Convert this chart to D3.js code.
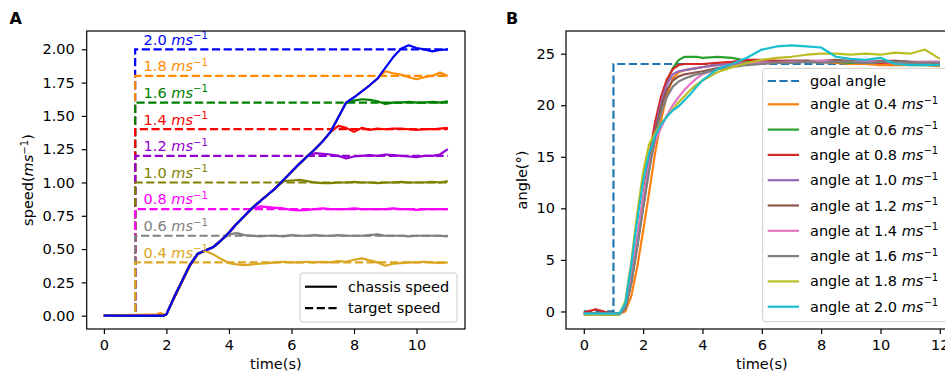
<!DOCTYPE html>
<html lang="en">
<head>
<meta charset="utf-8">
<title>Chassis speed and steering angle response</title>
<script src="https://cdn.jsdelivr.net/npm/d3@7"></script>
<style>
  body { margin: 0; background: #fff; }
  svg { display: block; font-family: "DejaVu Sans", sans-serif; }
</style>
</head>
<body>
<script>

// ---- Panel A data: chassis speed (m/s) against time (s) ----
var speedT = [0, 1.7, 1.8, 1.9, 2.0, 2.25, 2.5, 2.75, 3.0, 3.25, 3.5, 3.75, 4.0, 4.25, 4.5, 4.75,
              5.0, 5.25, 5.5, 5.75, 6.0, 6.25, 6.5, 6.75, 7.0, 7.25, 7.5, 7.75, 8.0, 8.25, 8.5, 8.75,
              9.0, 9.25, 9.5, 9.75, 10.0, 10.25, 10.5, 10.75, 11.0];

var speedTargets = [0.4, 0.6, 0.8, 1.0, 1.2, 1.4, 1.6, 1.8, 2.0];
var speedColors = ["goldenrod", "gray", "magenta", "olive", "darkviolet", "red", "green", "darkorange", "blue"];

var s04 = [0, 0, 0, 0, 0.01, 0.13, 0.25, 0.37, 0.46, 0.485, 0.46, 0.425, 0.395, 0.385, 0.38, 0.385,
           0.39, 0.395, 0.4, 0.405, 0.4, 0.4, 0.405, 0.4, 0.405, 0.4, 0.41, 0.405, 0.42, 0.43, 0.415, 0.4,
           0.375, 0.39, 0.395, 0.4, 0.4, 0.405, 0.4, 0.395, 0.4];
var s06 = [0, 0, 0, 0, 0.01, 0.14, 0.26, 0.38, 0.465, 0.49, 0.515, 0.565, 0.61, 0.62, 0.605, 0.6,
           0.595, 0.6, 0.6, 0.595, 0.605, 0.6, 0.6, 0.605, 0.6, 0.6, 0.605, 0.6, 0.6, 0.6, 0.605, 0.61,
           0.6, 0.6, 0.6, 0.595, 0.6, 0.6, 0.6, 0.6, 0.595];
var s08 = [0, 0, 0, 0, 0.01, 0.14, 0.26, 0.38, 0.465, 0.49, 0.515, 0.565, 0.625, 0.69, 0.75, 0.805,
           0.82, 0.815, 0.81, 0.805, 0.795, 0.79, 0.795, 0.8, 0.805, 0.8, 0.8, 0.8, 0.805, 0.8, 0.8, 0.8,
           0.8, 0.805, 0.8, 0.8, 0.795, 0.8, 0.8, 0.8, 0.8];
var s10 = [0, 0, 0, 0, 0.01, 0.14, 0.26, 0.38, 0.465, 0.49, 0.515, 0.565, 0.625, 0.69, 0.75, 0.81,
           0.86, 0.91, 0.96, 1.01, 1.015, 1.02, 1.01, 1.0, 0.995, 0.995, 1.0, 1.0, 1.005, 1.0, 1.0, 0.995,
           1.0, 1.0, 1.005, 1.0, 1.0, 1.0, 1.005, 1.0, 1.01];
var s12 = [0, 0, 0, 0, 0.01, 0.14, 0.26, 0.38, 0.465, 0.49, 0.515, 0.565, 0.625, 0.69, 0.75, 0.81,
           0.86, 0.91, 0.96, 1.02, 1.08, 1.14, 1.195, 1.22, 1.215, 1.21, 1.2, 1.18, 1.195, 1.2, 1.205, 1.2,
           1.21, 1.205, 1.2, 1.195, 1.19, 1.2, 1.2, 1.21, 1.25];
var s14 = [0, 0, 0, 0, 0.01, 0.14, 0.26, 0.38, 0.465, 0.49, 0.515, 0.565, 0.625, 0.69, 0.75, 0.81,
           0.86, 0.91, 0.96, 1.02, 1.08, 1.14, 1.195, 1.25, 1.31, 1.38, 1.425, 1.41, 1.38, 1.41, 1.395, 1.405,
           1.4, 1.405, 1.405, 1.4, 1.395, 1.4, 1.4, 1.405, 1.41];
var s16 = [0, 0, 0, 0, 0.01, 0.14, 0.26, 0.38, 0.465, 0.49, 0.515, 0.565, 0.625, 0.69, 0.75, 0.81,
           0.86, 0.91, 0.96, 1.02, 1.08, 1.14, 1.195, 1.25, 1.31, 1.38, 1.49, 1.6, 1.615, 1.625, 1.62, 1.61,
           1.59, 1.6, 1.6, 1.605, 1.6, 1.6, 1.605, 1.6, 1.61];
var s18 = [0, 0.01, 0.02, 0.01, 0.01, 0.14, 0.26, 0.38, 0.465, 0.49, 0.515, 0.565, 0.625, 0.69, 0.75, 0.81,
           0.86, 0.91, 0.96, 1.02, 1.08, 1.14, 1.195, 1.25, 1.31, 1.38, 1.49, 1.6, 1.64, 1.685, 1.73, 1.78,
           1.835, 1.82, 1.81, 1.79, 1.775, 1.79, 1.8, 1.825, 1.8];
var s20 = [0, 0, 0, 0, 0.01, 0.14, 0.26, 0.38, 0.465, 0.49, 0.515, 0.565, 0.625, 0.69, 0.75, 0.81,
           0.86, 0.91, 0.96, 1.02, 1.08, 1.14, 1.195, 1.25, 1.31, 1.38, 1.49, 1.6, 1.64, 1.685, 1.73, 1.78,
           1.86, 1.94, 2.005, 2.03, 2.01, 2.0, 1.985, 1.995, 2.0];
var speedSeries = [s04, s06, s08, s10, s12, s14, s16, s18, s20];

var speedXTicks = [0, 2, 4, 6, 8, 10];
var speedYTicks = [0, 0.25, 0.5, 0.75, 1.0, 1.25, 1.5, 1.75, 2.0];

// ---- Panel B data: steering angle (deg) against time (s) ----
var angleT = [0, 0.4, 0.8, 1.2, 1.4, 1.6, 1.8, 2.0, 2.2, 2.4, 2.6, 2.8, 3.0, 3.2, 3.4, 3.6, 3.8, 4.0,
              4.5, 5.0, 5.5, 6.0, 6.5, 7.0, 7.5, 8.0, 8.5, 9.0, 9.5, 10.0, 10.5, 11.0, 11.5, 12.0];
var goalT = [0, 1, 1, 12];
var goalAngle = [0, 0, 24, 24];

var angleSpeeds = ["0.4", "0.6", "0.8", "1.0", "1.2", "1.4", "1.6", "1.8", "2.0"];
var angleColors = ["#ff7f0e", "#2ca02c", "#d62728", "#9467bd", "#8c564b", "#e377c2", "#7f7f7f", "#bcbd22", "#17becf"];

var a04 = [-0.2, -0.2, -0.2, -0.2, 0.0, 1.5, 4.3, 7.8, 11.5, 15.3, 18.5, 21.0, 22.6, 23.2, 23.4, 23.5, 23.6, 23.7,
           23.9, 24.1, 24.2, 24.3, 24.3, 24.3, 24.2, 24.2, 24.1, 24.0, 24.0, 23.9, 23.9, 23.9, 23.9, 23.8];
var a06 = [-0.2, -0.2, -0.3, -0.3, 0.3, 3.0, 6.5, 10.5, 14.5, 18.0, 20.5, 22.3, 23.6, 24.4, 24.7, 24.7, 24.7, 24.6,
           24.7, 24.6, 24.3, 24.3, 24.2, 24.2, 24.3, 24.2, 24.2, 24.1, 24.2, 24.1, 24.2, 24.1, 24.1, 24.0];
var a08 = [-0.1, 0.2, -0.1, -0.2, 0.4, 3.2, 7.0, 11.0, 15.0, 18.3, 20.8, 22.5, 23.5, 23.9, 24.0, 24.0, 24.0, 24.0,
           24.1, 24.2, 24.4, 24.4, 24.3, 24.3, 24.3, 24.2, 24.2, 24.2, 24.2, 24.1, 24.1, 24.1, 24.0, 24.0];
var a10 = [-0.3, -0.3, -0.3, -0.3, 0.3, 2.8, 6.3, 10.2, 14.0, 17.5, 20.2, 22.0, 23.0, 23.3, 23.4, 23.5, 23.6, 23.7,
           23.9, 24.0, 24.1, 24.2, 24.2, 24.2, 24.3, 24.2, 24.2, 24.2, 24.1, 24.2, 24.3, 24.2, 24.1, 24.1];
var a12 = [-0.2, -0.2, -0.2, -0.2, 0.3, 2.9, 6.5, 10.3, 14.0, 17.3, 19.8, 21.5, 22.4, 22.8, 23.0, 23.1, 23.2, 23.3,
           23.6, 23.8, 24.0, 24.1, 24.2, 24.3, 24.3, 24.3, 24.4, 24.3, 24.2, 24.3, 24.3, 24.2, 24.2, 24.2];
var a14 = [-0.2, -0.3, -0.2, -0.2, 0.4, 3.2, 7.0, 11.0, 14.3, 16.4, 17.8, 19.0, 20.0, 20.8, 21.5, 22.1, 22.6, 23.0,
           23.5, 23.8, 24.0, 24.1, 24.1, 24.2, 24.2, 24.3, 24.2, 24.2, 24.3, 24.2, 24.1, 24.1, 24.2, 24.2];
var a16 = [-0.2, -0.2, -0.2, -0.2, 0.3, 2.7, 6.2, 10.0, 13.6, 16.8, 19.2, 20.8, 21.8, 22.3, 22.6, 22.8, 23.0, 23.1,
           23.5, 23.7, 23.9, 24.0, 24.1, 24.1, 24.2, 24.1, 24.2, 24.2, 24.1, 24.2, 24.2, 24.1, 24.1, 24.1];
var a18 = [-0.3, -0.3, -0.3, -0.3, 1.0, 4.8, 9.5, 13.5, 16.2, 17.3, 18.2, 18.9, 19.6, 20.3, 20.9, 21.5, 22.0, 22.4,
           23.2, 23.7, 24.1, 24.4, 24.6, 24.7, 24.9, 25.0, 25.0, 24.9, 25.0, 24.9, 25.1, 25.0, 25.4, 24.5];
var a20 = [-0.2, -0.2, -0.2, -0.2, 0.8, 4.5, 8.8, 12.6, 15.3, 17.0, 18.1, 18.9, 19.5, 19.9, 20.5, 21.1, 21.8, 22.4,
           23.5, 24.0, 24.6, 25.4, 25.7, 25.8, 25.7, 25.6, 24.7, 24.5, 24.4, 24.6, 24.0, 23.9, 23.9, 23.9];
var angleSeries = [a04, a06, a08, a10, a12, a14, a16, a18, a20];

var angleXTicks = [0, 2, 4, 6, 8, 10, 12];
var angleYTicks = [0, 5, 10, 15, 20, 25];

// ---- layout ----
var w = 945, h = 378;
var fs = 14.5;
var lw = 2.2;
var dash = "8.2,3.5";

var svg = d3.select("body").append("svg")
            .attr("width", w)
            .attr("height", h);

// adds "<prefix> ms^-1 <suffix>" with italic ms and raised -1
function addUnit(text, prefix, suffix) {
  text.append("tspan").text(prefix);
  text.append("tspan").attr("font-style", "italic").text("ms");
  text.append("tspan").attr("font-size", fs * 0.7).attr("dy", -5.5).text("\u22121");
  if (suffix) text.append("tspan").attr("dy", 5.5).text(suffix);
}

function zip(xs, ys) {
  return xs.map(function(x, i) { return [x, ys[i]]; });
}

function styleAxis(g) {
  g.attr("font-size", fs).attr("font-family", null);
  g.select(".domain").remove();
  g.selectAll(".tick line").attr("stroke", "#000").attr("stroke-width", 1.2);
  g.selectAll(".tick text").attr("fill", "#000");
}

// ================= Panel A =================
var ax = { l: 86.7, r: 465, t: 31, b: 329 };
var xA = d3.scaleLinear().domain([-0.55, 11.55]).range([ax.l, ax.r]);
var yA = d3.scaleLinear().domain([-0.1, 2.1375]).range([ax.b, ax.t]);

svg.append("clipPath").attr("id", "clipA")
   .append("rect").attr("x", ax.l).attr("y", ax.t).attr("width", ax.r - ax.l).attr("height", ax.b - ax.t);

var lineA = d3.line().x(function(d) { return xA(d[0]); }).y(function(d) { return yA(d[1]); });
var plotA = svg.append("g").attr("clip-path", "url(#clipA)");

// target speeds: descending so that each lower step stays on top
for (var i = speedTargets.length - 1; i >= 0; i--) {
  var v = speedTargets[i];
  plotA.append("path")
       .attr("d", lineA([[0, 0], [1, 0], [1, v], [11, v]]))
       .attr("fill", "none")
       .attr("stroke", speedColors[i])
       .attr("stroke-width", lw)
       .attr("stroke-dasharray", dash);
}

// chassis speeds
speedSeries.forEach(function(s, i) {
  plotA.append("path")
       .attr("d", lineA(zip(speedT, s)))
       .attr("fill", "none")
       .attr("stroke", speedColors[i])
       .attr("stroke-width", lw)
       .attr("stroke-linejoin", "round");
});

// labels above each target line
speedTargets.forEach(function(v, i) {
  var t = svg.append("text")
             .attr("x", xA(1.27))
             .attr("y", yA(v + 0.035))
             .attr("font-size", fs)
             .attr("fill", speedColors[i]);
  addUnit(t, v.toFixed(1) + " ");
});

svg.append("g").attr("transform", "translate(0," + ax.b + ")")
   .call(d3.axisBottom(xA).tickValues(speedXTicks).tickSize(5).tickPadding(6).tickFormat(d3.format("d")))
   .call(styleAxis);
svg.append("g").attr("transform", "translate(" + ax.l + ",0)")
   .call(d3.axisLeft(yA).tickValues(speedYTicks).tickSize(5).tickPadding(7).tickFormat(d3.format(".2f")))
   .call(styleAxis);

svg.append("rect")
   .attr("x", ax.l).attr("y", ax.t).attr("width", ax.r - ax.l).attr("height", ax.b - ax.t)
   .attr("fill", "none").attr("stroke", "#000").attr("stroke-width", 1.2);

// legend A
var legA = svg.append("g");
legA.append("rect")
    .attr("x", 300).attr("y", 273).attr("width", 157).attr("height", 49).attr("rx", 3)
    .attr("fill", "#fff").attr("fill-opacity", 0.8).attr("stroke", "#ccc");
[["chassis speed", null], ["target speed", dash]].forEach(function(e, i) {
  var y = 286.7 + i * 21.5;
  legA.append("line").attr("x1", 305).attr("x2", 337).attr("y1", y).attr("y2", y)
      .attr("stroke", "#000").attr("stroke-width", lw).attr("stroke-dasharray", e[1]);
  legA.append("text").attr("x", 348).attr("y", y).attr("dy", "0.35em")
      .attr("font-size", fs).text(e[0]);
});

svg.append("text").attr("x", (ax.l + ax.r) / 2).attr("y", 369)
   .attr("text-anchor", "middle").attr("font-size", fs).text("time(s)");
var ylabA = svg.append("text")
   .attr("transform", "translate(33," + (ax.t + ax.b) / 2 + ") rotate(-90)")
   .attr("text-anchor", "middle").attr("font-size", fs);
addUnit(ylabA, "speed(", ")");

svg.append("text").attr("x", 9.5).attr("y", 24)
   .attr("font-size", 16).attr("font-weight", "bold").text("A");

// ================= Panel B =================
var bx = { l: 566, r: 957.6, t: 31, b: 329 };
var xB = d3.scaleLinear().domain([-0.6, 12.6]).range([bx.l, bx.r]);
var yB = d3.scaleLinear().domain([-1.7, 27.2]).range([bx.b, bx.t]);

svg.append("clipPath").attr("id", "clipB")
   .append("rect").attr("x", bx.l).attr("y", bx.t).attr("width", bx.r - bx.l).attr("height", bx.b - bx.t);

var lineB = d3.line().x(function(d) { return xB(d[0]); }).y(function(d) { return yB(d[1]); });
var plotB = svg.append("g").attr("clip-path", "url(#clipB)");

plotB.append("path")
     .attr("d", lineB(zip(goalT, goalAngle)))
     .attr("fill", "none")
     .attr("stroke", "#1f77b4")
     .attr("stroke-width", lw)
     .attr("stroke-dasharray", dash);

angleSeries.forEach(function(s, i) {
  plotB.append("path")
       .attr("d", lineB(zip(angleT, s)))
       .attr("fill", "none")
       .attr("stroke", angleColors[i])
       .attr("stroke-width", lw)
       .attr("stroke-linejoin", "round");
});

svg.append("g").attr("transform", "translate(0," + bx.b + ")")
   .call(d3.axisBottom(xB).tickValues(angleXTicks).tickSize(5).tickPadding(6).tickFormat(d3.format("d")))
   .call(styleAxis);
svg.append("g").attr("transform", "translate(" + bx.l + ",0)")
   .call(d3.axisLeft(yB).tickValues(angleYTicks).tickSize(5).tickPadding(6).tickFormat(d3.format("d")))
   .call(styleAxis);

svg.append("rect")
   .attr("x", bx.l).attr("y", bx.t).attr("width", bx.r - bx.l).attr("height", bx.b - bx.t)
   .attr("fill", "none").attr("stroke", "#000").attr("stroke-width", 1.2);

// legend B
var legB = svg.append("g");
legB.append("rect")
    .attr("x", 762.7).attr("y", 68.3).attr("width", 200).attr("height", 253.4).attr("rx", 3)
    .attr("fill", "#fff").attr("fill-opacity", 0.8).attr("stroke", "#ccc");
legB.append("line").attr("x1", 767.7).attr("x2", 799).attr("y1", 81).attr("y2", 81)
    .attr("stroke", "#1f77b4").attr("stroke-width", lw).attr("stroke-dasharray", dash);
legB.append("text").attr("x", 810).attr("y", 81).attr("dy", "0.35em")
    .attr("font-size", fs).text("goal angle");
angleSpeeds.forEach(function(sp, i) {
  var y = 104.3 + i * 25.3;
  legB.append("line").attr("x1", 767.7).attr("x2", 799).attr("y1", y).attr("y2", y)
      .attr("stroke", angleColors[i]).attr("stroke-width", lw);
  var t = legB.append("text").attr("x", 810).attr("y", y).attr("dy", "0.35em").attr("font-size", fs);
  addUnit(t, "angle at " + sp + " ");
});

svg.append("text").attr("x", (bx.l + bx.r) / 2).attr("y", 369)
   .attr("text-anchor", "middle").attr("font-size", fs).text("time(s)");
svg.append("text")
   .attr("transform", "translate(527," + (bx.t + bx.b) / 2 + ") rotate(-90)")
   .attr("text-anchor", "middle").attr("font-size", fs).text("angle(\u00b0)");

svg.append("text").attr("x", 506).attr("y", 24)
   .attr("font-size", 16).attr("font-weight", "bold").text("B");

</script>
</body>
</html>
